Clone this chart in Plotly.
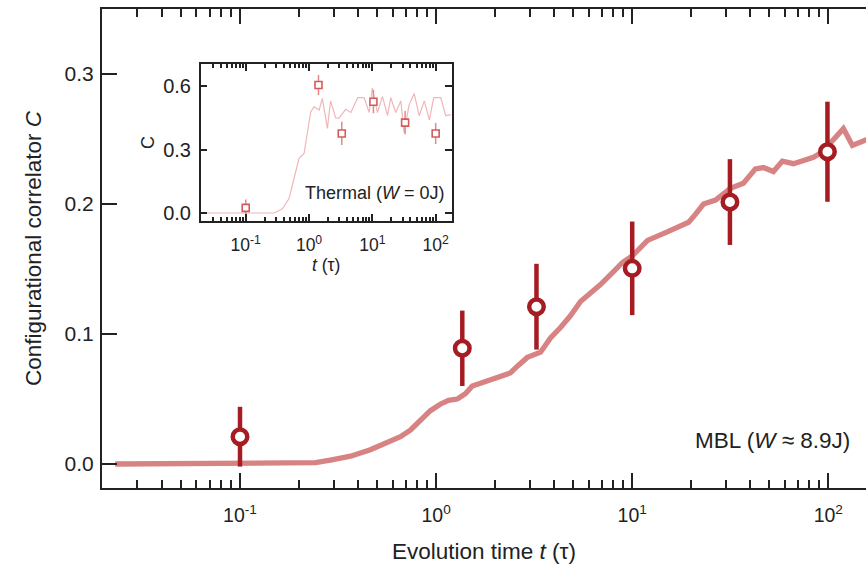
import plotly.graph_objects as go

# ---- Main panel: MBL regime (W ≈ 8.9J) ----
mbl_t = [0.0231, 0.192, 0.243, 0.289, 0.366, 0.462, 0.551, 0.658, 0.739, 0.832,
         0.935, 1.05, 1.156, 1.284, 1.41, 1.53, 1.68, 2.0, 2.39, 2.63,
         2.92, 3.41, 3.83, 4.31, 4.84, 5.45, 6.13, 6.89, 8.03, 8.92,
         10.0, 11.0, 11.97, 14.8, 17.0, 19.4, 21.0, 23.1, 26.6, 31.7,
         36.9, 42.5, 46.7, 52.5, 58.3, 66.4, 84.0, 93.3, 102.5, 119.4,
         132.7, 151.0, 166.0]
mbl_C = [0.0, 0.0, 0.001, 0.003, 0.006, 0.011, 0.0155, 0.021, 0.026, 0.034,
         0.041, 0.046, 0.049, 0.050, 0.054, 0.060, 0.062, 0.066, 0.070, 0.076,
         0.082, 0.086, 0.097, 0.105, 0.114, 0.125, 0.131, 0.138, 0.148, 0.155,
         0.160, 0.167, 0.172, 0.178, 0.182, 0.186, 0.192, 0.200, 0.203, 0.212,
         0.216, 0.227, 0.228, 0.225, 0.233, 0.231, 0.236, 0.240, 0.247, 0.258,
         0.245, 0.249, 0.251]

exp_t = [0.1, 1.36, 3.25, 10.0, 31.5, 99.0]
exp_C = [0.021, 0.089, 0.121, 0.1505, 0.2015, 0.2402]
exp_err = [0.023, 0.029, 0.033, 0.036, 0.033, 0.0385]

# ---- Inset: thermal regime (W = 0J) ----
th_t = [0.0202, 0.282, 0.380, 0.483, 0.579, 0.695, 0.834, 0.944, 1.064, 1.202,
        1.445, 1.622, 1.950, 2.188, 2.630, 2.951, 3.802, 4.571, 5.888, 7.413,
        8.913, 10.0, 12.02, 14.45, 17.38, 19.50, 23.44, 28.18, 31.62, 38.02,
        45.71, 54.95, 66.07, 79.43, 93.33, 120.2, 144.5, 173.8]
th_C = [0.0, 0.0, 0.02, 0.068, 0.163, 0.258, 0.281, 0.384, 0.479, 0.502,
        0.487, 0.542, 0.40, 0.53, 0.45, 0.447, 0.49, 0.475, 0.545, 0.545,
        0.475, 0.59, 0.475, 0.55, 0.46, 0.545, 0.475, 0.53, 0.38, 0.51,
        0.565, 0.46, 0.53, 0.44, 0.545, 0.545, 0.46, 0.465]

th_exp_t = [0.1, 1.41, 3.29, 10.4, 32.9, 100.0]
th_exp_C = [0.024, 0.605, 0.376, 0.526, 0.427, 0.376]
th_exp_err = [0.04, 0.047, 0.055, 0.055, 0.055, 0.05]

# ---- Axis ticks ----
decade_vals = [0.1, 1, 10, 100]
decade_text = ["10<sup>-1</sup>", "10<sup>0</sup>", "10<sup>1</sup>", "10<sup>2</sup>"]
minor_vals = [m * 10.0 ** e for e in (-2, -1, 0, 1, 2) for m in range(2, 10)]
main_yvals = [0.0, 0.1, 0.2, 0.3]
main_ytext = ["0.0", "0.1", "0.2", "0.3"]
inset_yvals = [0.0, 0.3, 0.6]
inset_ytext = ["0.0", "0.3", "0.6"]

FONT = "Liberation Sans, Arial, sans-serif"
INK = "#222222"
DARK_RED = "#a51c23"
LINE_RED = "#d88383"
INSET_RED = "#d45a5a"
INSET_LINE = "#f1b6b6"

fig = go.Figure()

fig.add_trace(go.Scatter(
    x=mbl_t, y=mbl_C, mode="lines",
    line=dict(color=LINE_RED, width=5.3),
    xaxis="x", yaxis="y", showlegend=False, hoverinfo="skip"))

fig.add_trace(go.Scatter(
    x=exp_t, y=exp_C, mode="markers",
    marker=dict(symbol="circle", size=14.5, color="white",
                line=dict(color=DARK_RED, width=4.5)),
    error_y=dict(type="data", array=exp_err, visible=True,
                 color=DARK_RED, thickness=4.5, width=0),
    xaxis="x", yaxis="y", showlegend=False))

fig.add_trace(go.Scatter(
    x=th_t, y=th_C, mode="lines",
    line=dict(color=INSET_LINE, width=1.2),
    xaxis="x2", yaxis="y3", showlegend=False, hoverinfo="skip"))

fig.add_trace(go.Scatter(
    x=th_exp_t, y=th_exp_C, mode="markers",
    marker=dict(symbol="square", size=7, color="white",
                line=dict(color=INSET_RED, width=1.6)),
    error_y=dict(type="data", array=th_exp_err, visible=True,
                 color="#e08a8a", thickness=1.5, width=0),
    xaxis="x2", yaxis="y3", showlegend=False))

axis_common = dict(showgrid=False, zeroline=False, color=INK)

fig.update_layout(
    width=866, height=569,
    margin=dict(l=102, r=0, t=9, b=81),
    paper_bgcolor="white", plot_bgcolor="white",
    font=dict(family=FONT, color=INK, size=20),
    xaxis=dict(
        type="log", range=[-1.7037, 2.1922],
        tickmode="array", tickvals=decade_vals, ticktext=decade_text,
        ticks="inside", ticklen=15, tickwidth=2, tickcolor=INK,
        minor=dict(tickmode="array", tickvals=minor_vals, ticks="inside",
                   ticklen=8, tickwidth=2, tickcolor=INK),
        showline=True, linewidth=2, linecolor=INK, mirror="ticks",
        tickfont=dict(size=19.5), ticklabelstandoff=9,
        title=dict(text="Evolution time <i>t</i> (τ)", font=dict(size=22.5), standoff=18),
        **axis_common),
    yaxis=dict(
        range=[-0.01846, 0.35],
        tickmode="array", tickvals=main_yvals, ticktext=main_ytext,
        ticks="inside", ticklen=15, tickwidth=2, tickcolor=INK,
        showline=True, linewidth=2, linecolor=INK, mirror=False,
        tickfont=dict(size=21), ticklabelstandoff=2,
        title=dict(text="Configurational correlator <i>C</i>", font=dict(size=22.5), standoff=17),
        **axis_common),
    yaxis2=dict(
        overlaying="y", side="right", anchor="x",
        range=[-0.01846, 0.35],
        tickmode="array", tickvals=main_yvals,
        ticks="inside", ticklen=9, tickwidth=2, tickcolor=INK,
        showline=False, showticklabels=False,
        **axis_common),
    xaxis2=dict(
        type="log", range=[-1.711, 2.253], domain=[0.1292, 0.4577], anchor="y3",
        tickmode="array", tickvals=decade_vals, ticktext=decade_text,
        ticks="inside", ticklen=7, tickwidth=1.5, tickcolor=INK,
        minor=dict(tickmode="array", tickvals=minor_vals, ticks="inside",
                   ticklen=4, tickwidth=1.5, tickcolor=INK),
        showline=True, linewidth=1.5, linecolor=INK, mirror="ticks",
        tickfont=dict(size=17.5), ticklabelstandoff=8,
        title=dict(text="<i>t</i> (τ)", font=dict(size=17.5), standoff=0),
        **axis_common),
    yaxis3=dict(
        range=[-0.0365, 0.703], domain=[0.558, 0.8846], anchor="x2",
        tickmode="array", tickvals=inset_yvals, ticktext=inset_ytext,
        ticks="inside", ticklen=7, tickwidth=1.5, tickcolor=INK,
        showline=True, linewidth=1.5, linecolor=INK, mirror="ticks",
        tickfont=dict(size=20), ticklabelstandoff=4,
        title=dict(text="C", font=dict(size=18), standoff=4),
        **axis_common),
    annotations=[
        dict(text="MBL (<i>W</i> ≈ 8.9J)", xref="paper", yref="paper",
             x=(772 - 102) / 764, y=(488 - 440) / 479,
             xanchor="center", yanchor="middle", showarrow=False,
             font=dict(size=22.5, color=INK)),
        dict(text="Thermal (<i>W</i> = 0J)", xref="paper", yref="paper",
             x=(375 - 102) / 764, y=(488 - 193) / 479,
             xanchor="center", yanchor="middle", showarrow=False,
             font=dict(size=18, color=INK)),
    ],
)

fig.write_html("out.html")
